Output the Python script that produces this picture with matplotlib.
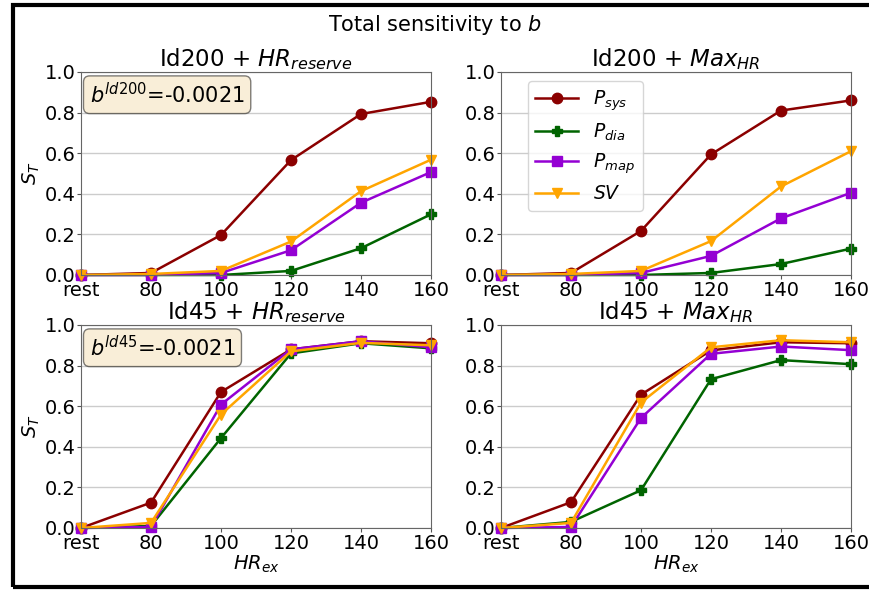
import matplotlib
matplotlib.use("Agg")
import matplotlib.pyplot as plt
from matplotlib.patches import Rectangle

# x positions and tick labels
hr_labels = ["rest", "80", "100", "120", "140", "160"]

# Id200 + HR_reserve
p_sys_id200_res = [0.0, 0.01, 0.197, 0.566, 0.793, 0.853]
p_dia_id200_res = [0.0, 0.0, 0.0, 0.02, 0.132, 0.299]
p_map_id200_res = [0.0, 0.0, 0.01, 0.122, 0.356, 0.507]
sv_id200_res = [0.0, 0.005, 0.02, 0.165, 0.413, 0.568]

# Id200 + Max_HR
p_sys_id200_max = [0.0, 0.01, 0.217, 0.594, 0.81, 0.86]
p_dia_id200_max = [0.0, 0.0, 0.0, 0.01, 0.054, 0.13]
p_map_id200_max = [0.0, 0.0, 0.01, 0.094, 0.279, 0.405]
sv_id200_max = [0.0, 0.005, 0.02, 0.167, 0.436, 0.61]

# Id45 + HR_reserve
p_sys_id45_res = [0.0, 0.125, 0.67, 0.88, 0.92, 0.91]
p_dia_id45_res = [0.0, 0.01, 0.443, 0.86, 0.91, 0.885]
p_map_id45_res = [0.0, 0.005, 0.608, 0.88, 0.92, 0.89]
sv_id45_res = [0.0, 0.025, 0.559, 0.87, 0.912, 0.90]

# Id45 + Max_HR
p_sys_id45_max = [0.0, 0.127, 0.657, 0.875, 0.915, 0.91]
p_dia_id45_max = [0.0, 0.03, 0.186, 0.733, 0.827, 0.807]
p_map_id45_max = [0.0, 0.005, 0.542, 0.858, 0.894, 0.876]
sv_id45_max = [0.0, 0.025, 0.618, 0.89, 0.925, 0.915]

panels = [
    ("Id200 + $HR_{reserve}$", [p_sys_id200_res, p_dia_id200_res, p_map_id200_res, sv_id200_res], "$b^{ld200}$=-0.0021"),
    ("Id200 + $Max_{HR}$", [p_sys_id200_max, p_dia_id200_max, p_map_id200_max, sv_id200_max], None),
    ("Id45 + $HR_{reserve}$", [p_sys_id45_res, p_dia_id45_res, p_map_id45_res, sv_id45_res], "$b^{ld45}$=-0.0021"),
    ("Id45 + $Max_{HR}$", [p_sys_id45_max, p_dia_id45_max, p_map_id45_max, sv_id45_max], None),
]

names = ["$P_{sys}$", "$P_{dia}$", "$P_{map}$", "$SV$"]
colors = ["darkred", "darkgreen", "darkviolet", "orange"]
markers = ["o", "P", "s", "v"]

fig = plt.figure(figsize=(8.69, 5.91), dpi=100)

# axes boxes in figure fractions
lefts = [0.0932, 0.5765]
bottoms = [0.5347, 0.1066]
w, h = 0.4028, 0.3435

x = list(range(len(hr_labels)))
for i, (title, series, note) in enumerate(panels):
    ax = fig.add_axes([lefts[i % 2], bottoms[i // 2], w, h])
    for y, name, c, m in zip(series, names, colors, markers):
        ax.plot(x, y, color=c, marker=m, lw=1.8, ms=7.5, label=name, clip_on=False)
    ax.set_xlim(0, 5)
    ax.set_ylim(0, 1)
    ax.set_xticks(x)
    ax.set_xticklabels(hr_labels)
    ax.set_yticks([0, 0.2, 0.4, 0.6, 0.8, 1.0])
    ax.tick_params(labelsize=14, length=3, color="#555555", pad=1)
    ax.grid(axis="y", color="#cccccc", lw=1)
    ax.set_axisbelow(True)
    for s in ax.spines.values():
        s.set_color("#666666")
    ax.set_title(title, fontsize=16.5, pad=3)
    if i % 2 == 0:
        ax.set_ylabel("$S_T$", fontsize=14, labelpad=2)
    if i // 2 == 1:
        ax.set_xlabel("$HR_{ex}$", fontsize=14, labelpad=1)
    if note:
        ax.text(0.025, 0.95, note, transform=ax.transAxes, fontsize=15,
                va="top", ha="left",
                bbox=dict(boxstyle="round", facecolor="wheat", alpha=0.5))
    if i == 1:
        ax.legend(loc="upper left", bbox_to_anchor=(0.05, 1.0), fontsize=13.5,
                  handlelength=2.3, labelspacing=0.45)

fig.suptitle("Total sensitivity to $b$", fontsize=15, y=0.978)

# black frame round the figure (right side runs off the image)
fig.patches.append(Rectangle((0.015, 0.007), 1.2, 0.984, transform=fig.transFigure,
                             fill=False, edgecolor="black", lw=3))

plt.savefig("out.png", dpi=100)
